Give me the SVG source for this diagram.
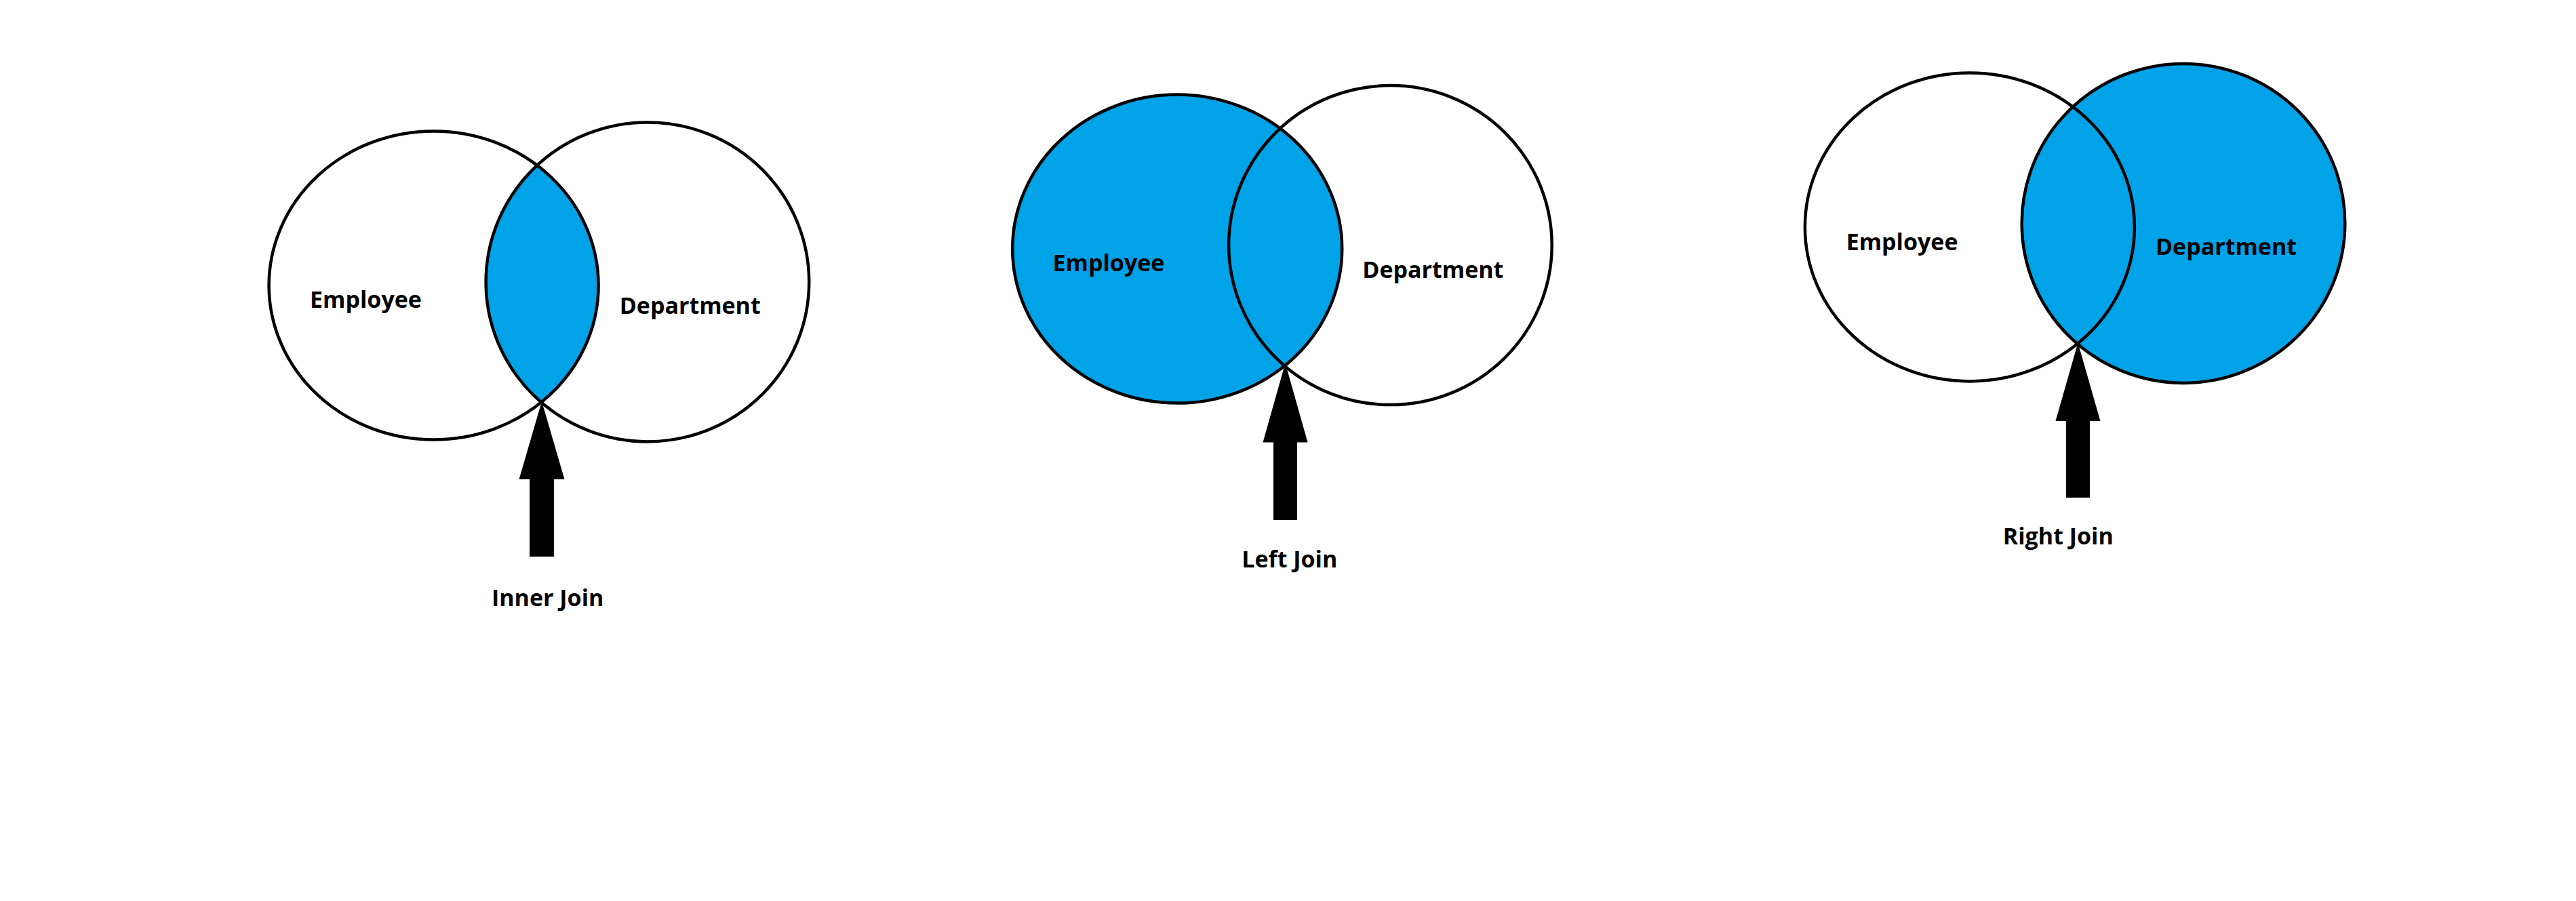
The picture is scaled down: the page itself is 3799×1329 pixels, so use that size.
<svg xmlns="http://www.w3.org/2000/svg" width="3799" height="1329" viewBox="0 0 3799 1329">
  <style>
    .set { fill: none; stroke: #000; stroke-width: 4.5; }
    .fill { fill: #00A2E8; stroke: none; }
    .lbl { font-family: "Open Sans", "Noto Sans", "Liberation Sans", sans-serif; font-weight: 700; font-size: 34px; fill: #000; text-anchor: middle; }
    .arrow { fill: #000; stroke: none; }
  </style>
  <defs>
    <clipPath id="clipE1">
      <ellipse cx="639.6" cy="421" rx="243" ry="227.5"/>
    </clipPath>
  </defs>
  <rect x="0" y="0" width="3799" height="1329" fill="#fff"/>

  <!-- Inner Join -->
  <g id="inner-overlap">
    <ellipse class="fill" cx="954.9" cy="415.9" rx="238.3" ry="235.5" clip-path="url(#clipE1)"/>
  </g>
  <g id="inner-employee">
    <ellipse class="set" cx="639.6" cy="421" rx="243" ry="227.5"/>
    <text class="lbl" x="539.5" y="454">Employee</text>
  </g>
  <g id="inner-department">
    <ellipse class="set" cx="954.9" cy="415.9" rx="238.3" ry="235.5"/>
    <text class="lbl" x="1017.7" y="462.5">Department</text>
  </g>
  <g id="inner-join-label">
    <text class="lbl" x="807.7" y="894">Inner Join</text>
  </g>

  <!-- Left Join -->
  <g id="left-employee">
    <ellipse class="fill" cx="1736.2" cy="367.1" rx="243" ry="227.5"/>
    <ellipse class="set" cx="1736.2" cy="367.1" rx="243" ry="227.5"/>
    <text class="lbl" x="1635" y="400.4">Employee</text>
  </g>
  <g id="left-department">
    <ellipse class="set" cx="2050.4" cy="361.6" rx="238.3" ry="235.5"/>
    <text class="lbl" x="2113.3" y="409.8">Department</text>
  </g>
  <g id="left-join-label">
    <text class="lbl" x="1901.8" y="837">Left Join</text>
  </g>

  <!-- Right Join -->
  <g id="right-department">
    <ellipse class="fill" cx="3220" cy="329.4" rx="238.3" ry="235.5"/>
    <ellipse class="set" cx="3220" cy="329.4" rx="238.3" ry="235.5"/>
    <text class="lbl" x="3283" y="376">Department</text>
  </g>
  <g id="right-employee">
    <ellipse class="set" cx="2904.9" cy="334.9" rx="243" ry="227.5"/>
    <text class="lbl" x="2805.1" y="369.3">Employee</text>
  </g>
  <g id="right-join-label">
    <text class="lbl" x="3035.3" y="803">Right Join</text>
  </g>

  <!-- Connectors (arrows) -->
  <g id="connectors">
    <polygon class="arrow" points="799,592 832.5,707 817,707 817,821 781,821 781,707 765.5,707"/>
    <polygon class="arrow" points="1895.5,535.5 1928.5,652.5 1913,652.5 1913,767 1878,767 1878,652.5 1862.5,652.5"/>
    <polygon class="arrow" points="3064.5,505.5 3097.5,621 3082,621 3082,734 3047,734 3047,621 3031.5,621"/>
  </g>
</svg>
